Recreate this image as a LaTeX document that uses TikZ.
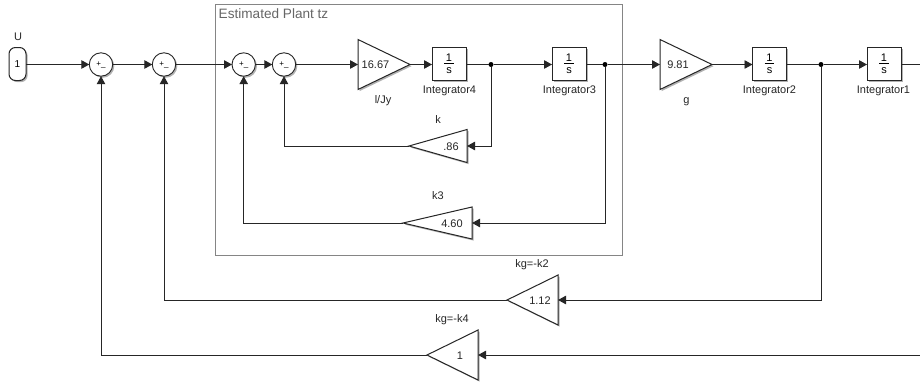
\documentclass[tikz,border=0pt]{standalone}
\usepackage{fontspec}
\setmainfont{Liberation Sans}
\usetikzlibrary{arrows.meta,shapes.geometric,shadows}
\definecolor{ink}{HTML}{262626}
\tikzset{
  softshadow/.style={drop shadow={shadow xshift=1.6pt,shadow yshift=-1.6pt,opacity=.3,fill=black}},
  wire/.style={draw=ink,line width=.9pt,-{Triangle[length=8pt,width=8.5pt]}},
  plainwire/.style={draw=ink,line width=.9pt},
  sumblock/.style={circle,draw=ink,line width=.9pt,fill=white,minimum size=23.4pt,inner sep=0pt,outer sep=0pt,softshadow,font=\fontsize{8}{8}\selectfont},
  intblock/.style={rectangle,draw=ink,line width=1pt,fill=white,minimum width=34pt,minimum height=33.5pt,inner sep=0pt,outer sep=0pt,softshadow,align=center,font=\fontsize{11}{11.5}\selectfont},
  inblock/.style={rectangle,rounded corners=6.5pt,draw=ink,line width=1pt,fill=white,minimum width=17pt,minimum height=33pt,inner sep=0pt,outer sep=0pt,softshadow,font=\fontsize{10}{11}\selectfont},
  gainblock/.style={isosceles triangle,isosceles triangle stretches,draw=ink,line width=1pt,fill=white,inner sep=0pt,outer sep=0pt,softshadow,anchor=apex,minimum height=#1},
  gainblock/.default=52pt,
  dotnode/.style={circle,fill=black,minimum size=5pt,inner sep=0pt,outer sep=0pt},
  lbl/.style={font=\fontsize{11}{12}\selectfont,text=ink,inner sep=0pt},
}
\begin{document}
\begin{tikzpicture}[x=1pt,y=-1pt]
\useasboundingbox (0,0) rectangle (920,383);
\clip (0,0) rectangle (920,383);
\fill[white] (0,0) rectangle (920,383);

% subsystem frame
\node[draw=black!48,line width=.8pt,minimum width=407pt,minimum height=251pt,inner sep=0pt,outer sep=0pt,anchor=north west] (plant) at (215,4) {};
\node[anchor=west,inner sep=0pt,text=black!60,font=\fontsize{13.6}{14}\selectfont] (planttitle) at (218.5,13.5) {Estimated Plant tz};

% blocks
\node[inblock] (in) at (17.5,64) {1};
\node[sumblock] (s1) at (101,64.5) {+\_};
\node[sumblock] (s2) at (164,64.5) {+\_};
\node[sumblock] (s3) at (243.7,64.5) {+\_};
\node[sumblock] (s4) at (284,64.5) {+\_};
\node[gainblock,minimum width=50pt] (jy) at (410,64.5) {};
\node[intblock] (i4) at (449,64) {\underline{\,1\,}\\s};
\node[dotnode] (j4) at (491,64.5) {};
\node[intblock] (i3) at (569,64) {\underline{\,1\,}\\s};
\node[dotnode] (j3) at (605,64.5) {};
\node[gainblock,minimum width=50pt] (g) at (712,64.5) {};
\node[intblock] (i2) at (769.5,64) {\underline{\,1\,}\\s};
\node[dotnode] (j2) at (821,64.5) {};
\node[intblock] (i1) at (884,64) {\underline{\,1\,}\\s};
\coordinate (outA) at (921,64.5);
\coordinate (outB) at (921,355);

\node[gainblock=58pt,minimum width=33pt,shape border rotate=180] (k) at (409,146) {};
\node[gainblock=69pt,minimum width=32pt,shape border rotate=180] (k3) at (403,223) {};
\node[gainblock=51pt,minimum width=50pt,shape border rotate=180] (k2) at (507,300) {};
\node[gainblock=51pt,minimum width=50pt,shape border rotate=180] (k4) at (427,355) {};

% block values
\node[lbl] (vjy) at (375.5,64.5) {16.67};
\node[lbl] (vg) at (678,64.5) {9.81};
\node[lbl] (vk) at (451,146.5) {.86};
\node[lbl] (vk3) at (452,223.5) {4.60};
\node[lbl] (vk2) at (540,300.5) {1.12};
\node[lbl] (vk4) at (460,356) {1};

% block names
\node[lbl] (nU) at (18,37) {U};
\node[lbl] (njy) at (383,100.5) {l/Jy};
\node[lbl] (ni4) at (449.5,91) {Integrator4};
\node[lbl] (ni3) at (569.5,91) {Integrator3};
\node[lbl] (ng) at (686.5,101.5) {g};
\node[lbl] (ni2) at (769.5,91) {Integrator2};
\node[lbl] (ni1) at (883.5,91) {Integrator1};
\node[lbl] (nk) at (438,120) {k};
\node[lbl] (nk3) at (438,196) {k3};
\node[lbl] (nk2) at (532,265) {kg=-k2};
\node[lbl] (nk4) at (452,320) {kg=-k4};

% forward path
\draw[wire] (in.east |- s1) -- (s1.west);
\draw[wire] (s1) -- (s2);
\draw[wire] (s2) -- (s3);
\draw[wire] (s3) -- (s4);
\draw[wire] (s4.east) -- (s4.east -| jy.lower side);
\draw[wire] (jy.apex) -- (jy.apex -| i4.west);
\draw[plainwire] (i4.east |- j4) -- (j4);
\draw[wire] (j4) -- (j4 -| i3.west);
\draw[plainwire] (i3.east |- j3) -- (j3);
\draw[wire] (j3) -- (j3 -| g.lower side);
\draw[wire] (g.apex) -- (g.apex -| i2.west);
\draw[plainwire] (i2.east |- j2) -- (j2);
\draw[wire] (j2) -- (j2 -| i1.west);
\draw[plainwire] (i1.east |- outA) -- (outA);

% feedback paths
\draw[wire] (j4) |- (k.lower side);
\draw[wire] (j3) |- (k3.lower side);
\draw[wire] (j2) |- (k2.lower side);
\draw[wire] (outB) -- (k4.lower side);
\draw[wire] (k.apex) -| (s4.south);
\draw[wire] (k3.apex) -| (s3.south);
\draw[wire] (k2.apex) -| (s2.south);
\draw[wire] (k4.apex) -| (s1.south);
\end{tikzpicture}
\end{document}
